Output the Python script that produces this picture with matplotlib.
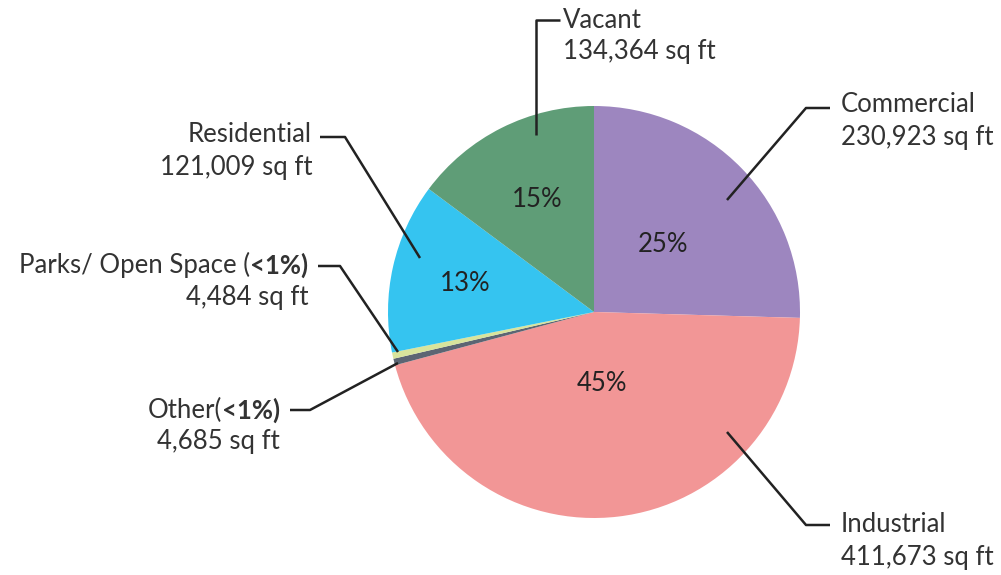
import numpy as np
import matplotlib
matplotlib.use("Agg")
import matplotlib.pyplot as plt

plt.rcParams['font.family'] = ['Lato', 'DejaVu Sans']

# land use areas (sq ft), clockwise from 12 o'clock
categories = ["Commercial", "Industrial", "Other", "Parks/ Open Space", "Residential", "Vacant"]
areas = [230923, 411673, 4685, 4484, 121009, 134364]
pct_labels = ["25%", "45%", "", "", "13%", "15%"]
colors = ["#9d86bf", "#f29696", "#5c6573", "#d8e49c", "#35c4f0", "#5f9d77"]
pct_dist = [0.47, 0.35, 0, 0, 0.64, 0.61]

W, H = 1001, 575
fig = plt.figure(figsize=(W / 100, H / 100), dpi=100)
ax = fig.add_axes([0, 0, 1, 1])

cx, cy, R = 594, H - 312, 206

wedges, _ = ax.pie(areas, colors=colors, startangle=90, counterclock=False,
                   center=(cx, cy), radius=R, frame=True,
                   wedgeprops=dict(linewidth=0))
ax.set_xlim(0, W)
ax.set_ylim(0, H)
ax.set_aspect('equal')
ax.axis('off')

FS = 18.5
for w, lab, d in zip(wedges, pct_labels, pct_dist):
    if not lab:
        continue
    a = np.deg2rad((w.theta1 + w.theta2) / 2)
    ax.text(cx + d * R * np.cos(a), cy + d * R * np.sin(a), lab,
            ha='center', va='center', fontsize=FS, color='#222222')


def py(y):
    return H - y


txt = dict(fontsize=FS, color='#333333')
line = dict(color='#222222', lw=1.8, solid_capstyle='butt')


def label(x, y1, y2, first, second, ha, bold=None):
    if bold:
        t = ax.text(x, py(y1), bold, ha='right', va='center', fontweight='bold', **txt)
        ax.annotate(first, xy=(0, 0.5), xycoords=t, ha='right', va='center', **txt)
    else:
        ax.text(x, py(y1), first, ha=ha, va='center', **txt)
    ax.text(x, py(y2), second, ha=ha, va='center', **txt)


# Vacant
ax.plot([536, 536, 560], [py(135), py(20), py(20)], **line)
label(563, 20, 52, "Vacant", "134,364 sq ft", 'left')
# Commercial
ax.plot([727, 806, 830], [py(200), py(108), py(108)], **line)
label(841, 105, 138, "Commercial", "230,923 sq ft", 'left')
# Industrial
ax.plot([727, 806, 830], [py(432), py(525), py(525)], **line)
label(841, 525, 557, "Industrial", "411,673 sq ft", 'left')
# Residential
ax.plot([320, 345, 420], [py(137), py(137), py(258)], **line)
label(312, 135, 168, "Residential", "121,009 sq ft", 'right')
# Parks / Open Space
ax.plot([318, 340, 398], [py(266), py(266), py(352)], **line)
label(308, 265, 297, "Parks/ Open Space (", "4,484 sq ft", 'right', bold="<1%)")
# Other
ax.plot([290, 310, 398], [py(410), py(410), py(363)], **line)
label(280, 410, 442, "Other(", "4,685 sq ft", 'right', bold="<1%)")

fig.savefig("out.png", dpi=100)
